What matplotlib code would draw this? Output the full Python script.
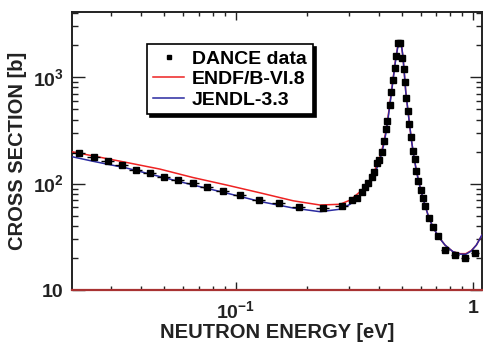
import matplotlib
matplotlib.use('Agg')
import matplotlib.pyplot as plt
from matplotlib.lines import Line2D
from matplotlib.ticker import FixedLocator, FixedFormatter, LogLocator, NullFormatter
import numpy as np

plt.rcParams['font.family'] = ['Liberation Sans', 'DejaVu Sans']
plt.rcParams['font.weight'] = 'bold'
plt.rcParams['mathtext.fontset'] = 'custom'
plt.rcParams['mathtext.rm'] = 'Liberation Sans:bold'
plt.rcParams['mathtext.bf'] = 'Liberation Sans:bold'
plt.rcParams['mathtext.default'] = 'bf'

# DANCE capture data (energy in eV, cross section in b)
dance_e = [0.0219, 0.0253, 0.0290, 0.0332, 0.0381, 0.0436, 0.0499, 0.0572, 0.0661, 0.0757,
           0.0884, 0.1042, 0.1253, 0.152, 0.1846, 0.233, 0.280,
           0.3077, 0.3232, 0.3392, 0.3501, 0.3615, 0.3736, 0.3831, 0.3945, 0.4022, 0.4117,
           0.4210, 0.4292, 0.4346, 0.4443, 0.4525, 0.4582, 0.4661, 0.4733, 0.4836, 0.4939,
           0.5027, 0.5096, 0.5160, 0.5224, 0.5312, 0.5378, 0.5468, 0.5558, 0.5668, 0.5757,
           0.5869, 0.6004, 0.6124, 0.6281, 0.6511, 0.6766, 0.7101, 0.7603, 0.8375, 0.9228, 1.0167]
dance_xs = [193, 177, 163, 149, 134, 125.5, 115, 108, 101, 93,
            85.0, 78.0, 70.0, 65.6, 60.1, 59.5, 61.5,
            70.0, 73.6, 83.7, 92.2, 100.5, 114.3, 129, 154.8, 166.2, 198.9,
            250.6, 322.8, 388.8, 546, 722, 937, 1216, 1574, 2084, 2112,
            1518, 1181, 897, 639, 483, 360, 275, 203, 172, 132,
            106, 87, 74, 61.5, 47.1, 38.8, 32.1, 23.7, 21.3, 20.1, 22.3]
# relative half width of the energy bins
dance_bin = [0.065] * 17 + [0.0] * 37 + [0.035] * 4

# evaluated libraries
endf_e = [0.0205, 0.0252, 0.0348, 0.048, 0.0663, 0.0917, 0.1266, 0.1748, 0.2264, 0.275,
          0.303, 0.334, 0.36, 0.38, 0.39, 0.40, 0.41, 0.42, 0.43, 0.44, 0.45, 0.46, 0.47,
          0.48, 0.488, 0.495, 0.50, 0.505, 0.51, 0.515, 0.52, 0.53, 0.54, 0.55, 0.56, 0.575,
          0.59, 0.61, 0.63, 0.65, 0.68, 0.72, 0.76, 0.82, 0.88, 0.93, 0.98, 1.03, 1.088]
endf_xs = [199, 182, 158, 137, 114, 97, 82, 69, 63, 64,
           70, 84, 98, 125, 143, 165, 195, 245, 320, 460, 670, 980, 1420,
           1900, 2150, 2120, 1900, 1600, 1250, 950, 720, 500, 350, 250, 190, 135,
           103, 77, 60, 48, 38, 31, 26.5, 23, 22, 22, 23.5, 26.5, 33]
jendl_e = endf_e
jendl_xs = [179, 162, 140, 116.5, 97, 81.5, 68, 59, 54.5, 57.5,
            64, 77, 91, 116, 134, 155, 185, 233, 307, 443, 648, 952, 1385,
            1865, 2130, 2110, 1900, 1600, 1250, 950, 720, 500, 350, 250, 190, 135,
            103, 77, 60, 48, 38, 31, 26.5, 23, 21.8, 21.7, 23.3, 26.5, 33]

fig = plt.figure(figsize=(4.83, 3.45), dpi=100)
ax = fig.add_axes([0.149, 0.159, 0.849, 0.805])

ax.plot(endf_e, endf_xs, color='#ee2222', lw=1.1, zorder=3)
ax.plot(jendl_e, jendl_xs, color='#2a2aa0', lw=1.1, zorder=3)

e = np.array(dance_e)
dx = e * np.array(dance_bin)
ax.errorbar(e, dance_xs, xerr=dx, fmt='s', color='black', ms=4.0, elinewidth=1.0,
            capsize=0, zorder=4)

ax.axhline(10, color='#a83232', lw=1.6, zorder=5, clip_on=False)

ax.set_xscale('log')
ax.set_yscale('log')
ax.set_xlim(0.0205, 1.088)
ax.set_ylim(10, 4050)

ax.xaxis.set_major_locator(FixedLocator([0.1, 1.0]))
ax.xaxis.set_major_formatter(FixedFormatter([r'$10^{-1}$', '1']))
ax.xaxis.set_minor_locator(LogLocator(base=10, subs=np.arange(2, 10)))
ax.xaxis.set_minor_formatter(NullFormatter())
ax.yaxis.set_major_locator(FixedLocator([10, 100, 1000]))
ax.yaxis.set_major_formatter(FixedFormatter(['10', r'$10^{2}$', r'$10^{3}$']))
ax.yaxis.set_minor_locator(LogLocator(base=10, subs=np.arange(2, 10)))
ax.yaxis.set_minor_formatter(NullFormatter())

ax.tick_params(axis='both', which='both', direction='in', top=True, right=True,
               width=1.0, labelsize=14, colors='#222222')
ax.tick_params(axis='x', which='major', length=6, pad=7)
ax.tick_params(axis='x', which='minor', length=3)
ax.tick_params(axis='y', which='major', length=9, pad=6)
ax.tick_params(axis='y', which='minor', length=4.5)
for s in ax.spines.values():
    s.set_linewidth(1.4)
    s.set_color('#222222')

ax.set_xlabel('NEUTRON ENERGY [eV]', fontsize=14.5, fontweight='bold', labelpad=1,
              color='#222222')
ax.set_ylabel('CROSS SECTION [b]', fontsize=14.5, fontweight='bold', labelpad=4,
              color='#222222')

handles = [Line2D([], [], ls='none', marker='s', color='black', ms=3.0),
           Line2D([], [], color='#ee2222', lw=1.1),
           Line2D([], [], color='#2a2aa0', lw=1.1)]
labels = ['DANCE data', 'ENDF/B-VI.8', 'JENDL-3.3']
leg = ax.legend(handles, labels, loc='upper left', bbox_to_anchor=(0.184, 0.886),
                borderaxespad=0, fancybox=False, framealpha=1, edgecolor='black',
                shadow={'color': 'black', 'alpha': 1}, fontsize=14,
                handlelength=1.6, handletextpad=0.4, labelspacing=0.15,
                borderpad=0.3)
leg.get_frame().set_linewidth(1.2)

fig.savefig('out.png', dpi=100)
